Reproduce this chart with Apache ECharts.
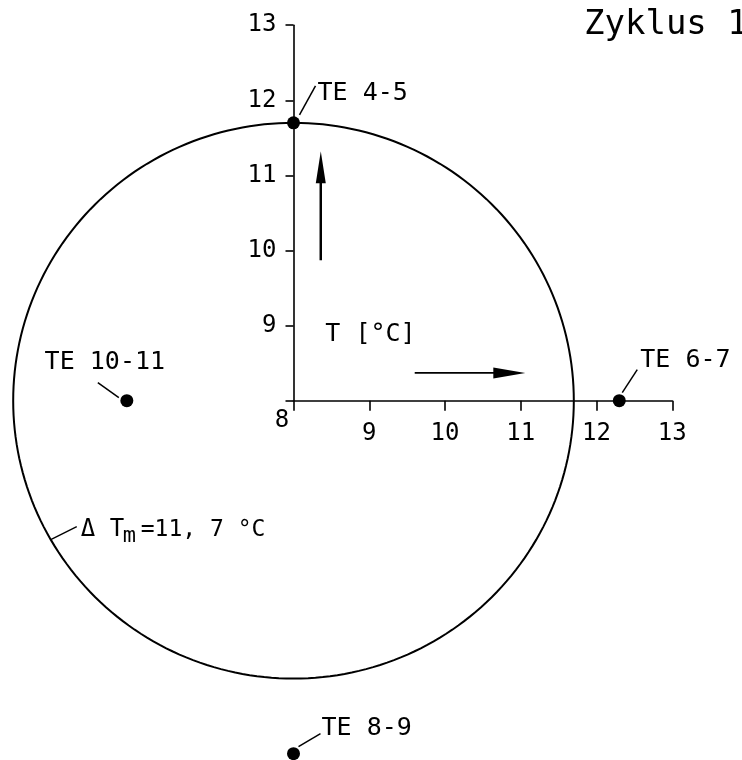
<!DOCTYPE html>
<html>
<head>
<meta charset="utf-8">
<script src="https://cdn.jsdelivr.net/npm/echarts@6/dist/echarts.min.js"></script>
<style>
  html, body { margin: 0; padding: 0; background: #fff; }
  #chart { width: 742px; height: 760px; }
</style>
</head>
<body>
<div id="chart"></div>
<script>
// Temperature ticks (°C) shared by both axes; the origin of the diagram is the first tick
const tickValues = [8, 9, 10, 11, 12, 13];

// Thermocouple pairs, their temperatures and the direction each is plotted along
const probeNames = ['TE 4-5', 'TE 6-7', 'TE 8-9', 'TE 10-11'];
const probeTemps = [11.7, 12.3, 12.7, 10.2];
const probeDirs  = ['up', 'right', 'down', 'left'];

// Mean temperature, drawn as a circle round the origin
const meanTemp = 11.7;
const meanLabelParts = ['Δ T', 'm', '=11, 7 °C'];

const titleText = 'Zyklus 1';
const axisTitle = 'T [°C]';

const FONT = '"DejaVu Sans Mono", monospace';
const INK = '#000';
const origin = tickValues[0];

// Where each probe's leader line and name sit, in pixels from its dot
const probeLabelLayout = {
  up:    { lead: [[6, -8], [22, -37]],  text: [24, -29], align: 'left' },
  right: { lead: [[3, -8], [18, -31]],  text: [21, -40], align: 'left' },
  down:  { lead: [[5, -7], [27, -20]],  text: [28, -25], align: 'left' },
  left:  { lead: [[-8, -3], [-29, -18]], text: [-22, -38], align: 'center' }
};

// A temperature measured along one of the four directions, as x/y on the shared scale
function probePoint(dir, t) {
  const d = t - origin;
  if (dir === 'up') return [origin, origin + d];
  if (dir === 'right') return [origin + d, origin];
  if (dir === 'down') return [origin, origin - d];
  return [origin - d, origin];
}

const probeData = probeNames.map((name, i) => {
  const p = probePoint(probeDirs[i], probeTemps[i]);
  return { name: name, value: [p[0], p[1], i] };
});

function renderProbe(params, api) {
  const i = api.value(2);
  const c = api.coord([api.value(0), api.value(1)]);
  const lay = probeLabelLayout[probeDirs[i]];
  return {
    type: 'group',
    children: [
      { type: 'circle', shape: { cx: c[0], cy: c[1], r: 6.5 }, style: { fill: INK } },
      { type: 'line',
        shape: { x1: c[0] + lay.lead[0][0], y1: c[1] + lay.lead[0][1],
                 x2: c[0] + lay.lead[1][0], y2: c[1] + lay.lead[1][1] },
        style: { stroke: INK, lineWidth: 1.5 } },
      { type: 'text', x: c[0] + lay.text[0], y: c[1] + lay.text[1],
        style: { text: probeNames[i], fill: INK, fontSize: 25, fontFamily: FONT,
                 align: lay.align, verticalAlign: 'middle' } }
    ]
  };
}

function renderMean(params, api) {
  const o = api.value(0);
  const v = api.value(2);
  const c = api.coord([o, o]);
  const rx = api.coord([v, o])[0] - c[0];
  const ry = c[1] - api.coord([o, v])[1];
  const pts = [];
  for (let k = 0; k <= 360; k += 1.5) {
    const a = k * Math.PI / 180;
    pts.push([c[0] + rx * Math.cos(a), c[1] - ry * Math.sin(a)]);
  }
  // leader for the mean label leaves the circle low on its left side
  const la = 210 * Math.PI / 180;
  const lx = c[0] + rx * Math.cos(la);
  const ly = c[1] - ry * Math.sin(la);
  const tx = lx + 30;
  const ty = ly - 10;
  return {
    type: 'group',
    children: [
      { type: 'polygon', shape: { points: pts }, style: { fill: 'none', stroke: INK, lineWidth: 2 } },
      { type: 'line', shape: { x1: lx, y1: ly, x2: lx + 26, y2: ly - 13 },
        style: { stroke: INK, lineWidth: 1.5 } },
      { type: 'text', x: tx, y: ty,
        style: { text: meanLabelParts[0], fill: INK, fontSize: 24, fontFamily: FONT,
                 align: 'left', verticalAlign: 'middle' } },
      { type: 'text', x: tx + 42, y: ty + 7,
        style: { text: meanLabelParts[1], fill: INK, fontSize: 22, fontFamily: FONT,
                 align: 'left', verticalAlign: 'middle' } },
      { type: 'text', x: tx + 60, y: ty,
        style: { text: meanLabelParts[2], fill: INK, fontSize: 23, fontFamily: FONT,
                 align: 'left', verticalAlign: 'middle' } }
    ]
  };
}

// Direction arrows, the axis caption and the shared origin label
function renderNotes(params, api) {
  const up0 = api.coord([8.36, 9.87]);
  const up1 = api.coord([8.36, 11.32]);
  const rt0 = api.coord([9.6, 8.37]);
  const rt1 = api.coord([11.06, 8.37]);
  const cap = api.coord([8.42, 8.875]);
  const o = api.coord([origin, origin]);
  return {
    type: 'group',
    children: [
      { type: 'line', shape: { x1: up0[0], y1: up0[1], x2: up1[0], y2: up1[1] + 20 },
        style: { stroke: INK, lineWidth: 2.5 } },
      { type: 'polygon',
        shape: { points: [[up1[0], up1[1]], [up1[0] - 5, up1[1] + 32], [up1[0] + 5, up1[1] + 32]] },
        style: { fill: INK } },
      { type: 'line', shape: { x1: rt0[0], y1: rt0[1], x2: rt1[0] - 20, y2: rt1[1] },
        style: { stroke: INK, lineWidth: 1.8 } },
      { type: 'polygon',
        shape: { points: [[rt1[0], rt1[1]], [rt1[0] - 32, rt1[1] - 5.5], [rt1[0] - 32, rt1[1] + 5.5]] },
        style: { fill: INK } },
      { type: 'text', x: cap[0], y: cap[1],
        style: { text: axisTitle, fill: INK, fontSize: 25, fontFamily: FONT, align: 'left', verticalAlign: 'middle' } },
      { type: 'text', x: o[0] - 11.5, y: o[1] + 20.5,
        style: { text: String(tickValues[0]), fill: INK, fontSize: 24, fontFamily: FONT, align: 'center', verticalAlign: 'middle' } }
    ]
  };
}

const axisCommon = {
  type: 'value',
  min: tickValues[0],
  max: tickValues[tickValues.length - 1],
  interval: 1,
  splitLine: { show: false },
  axisLine: { show: true, onZero: false, lineStyle: { color: INK, width: 1.6 } },
  axisTick: { show: true, lineStyle: { color: INK, width: 1.6 } }
};

const chart = echarts.init(document.getElementById('chart'), null, { renderer: 'canvas' });
chart.setOption({
  animation: false,
  backgroundColor: '#fff',
  title: {
    text: titleText,
    left: 579, top: 3,
    textStyle: { fontFamily: FONT, fontSize: 34, fontWeight: 'normal', color: INK }
  },
  grid: { left: 293.5, right: 69.7, top: 25.2, bottom: 359.3, containLabel: false },
  xAxis: Object.assign({}, axisCommon, {
    axisTick: Object.assign({}, axisCommon.axisTick, { length: 10 }),
    axisLabel: { color: INK, fontFamily: FONT, fontSize: 24, margin: 21,
                 formatter: v => (v === origin ? '' : String(v)) }
  }),
  yAxis: Object.assign({}, axisCommon, {
    axisTick: Object.assign({}, axisCommon.axisTick, { length: 8 }),
    axisLabel: { color: INK, fontFamily: FONT, fontSize: 24, margin: 17,
                 formatter: v => (v === origin ? '' : String(v)) }
  }),
  series: [
    { type: 'custom', name: 'mean', coordinateSystem: 'cartesian2d', clip: false,
      data: [[origin, origin, meanTemp]], renderItem: renderMean, silent: true },
    { type: 'custom', name: 'notes', coordinateSystem: 'cartesian2d', clip: false,
      data: [[origin, origin]], renderItem: renderNotes, silent: true },
    { type: 'custom', name: 'probes', coordinateSystem: 'cartesian2d', clip: false,
      data: probeData, renderItem: renderProbe, silent: true }
  ]
});
</script>
</body>
</html>
